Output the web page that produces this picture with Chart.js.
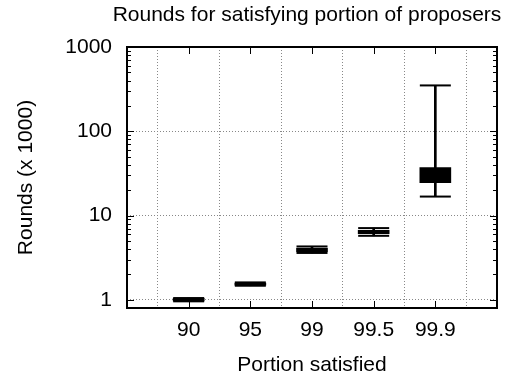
<!DOCTYPE html>
<html lang="en">
<head>
    <meta charset="UTF-8">
    <title>Rounds for satisfying portion of proposers</title>
    <style>
        html, body { margin: 0; padding: 0; background: #fff; }
        #wrap { width: 517px; height: 380px; }
    </style>
    <script src="https://cdn.jsdelivr.net/npm/chart.js@4.4.1/dist/chart.umd.min.js"></script>
</head>
<body>
    <div id="wrap"><canvas id="grafico" width="517" height="380"></canvas></div>
    <script>
    // dados (rounds x 1000)
    const categorias = ['90', '95', '99', '99.5', '99.9'];
    const minimo   = [0.96, 1.47, 3.6, 5.75, 16.8];
    const caixaLo  = [0.97, 1.49, 3.72, 6.1, 24.5];
    const caixaHi  = [1.04, 1.58, 4.1, 6.7, 37];
    const maximo   = [1.05, 1.61, 4.3, 7.1, 350];
    const yTicks   = [1, 10, 100, 1000];

    const fonte = '"Liberation Sans", Arial, sans-serif';
    const posX = categorias.map((c, i) => i + 1);

    const moldura = {
        id: 'moldura',
        afterDatasetsDraw(chart) {
            const {ctx, chartArea: a, scales: {x, y}} = chart;
            ctx.save();
            ctx.strokeStyle = '#000';
            ctx.lineWidth = 1;
            ctx.beginPath();
            posX.forEach(v => {
                const px = Math.round(x.getPixelForValue(v)) + 0.5;
                ctx.moveTo(px, a.bottom); ctx.lineTo(px, a.bottom - 7);
                ctx.moveTo(px, a.top); ctx.lineTo(px, a.top + 7);
            });
            yTicks.forEach(d => {
                for (let m = 1; m <= 9; m++) {
                    const v = d * m;
                    if (v < y.min || v > y.max) continue;
                    const py = Math.round(y.getPixelForValue(v)) + 0.5;
                    const len = m === 1 ? 7 : 4;
                    ctx.moveTo(a.left, py); ctx.lineTo(a.left + len, py);
                    ctx.moveTo(a.right, py); ctx.lineTo(a.right - len, py);
                }
            });
            ctx.stroke();
            ctx.lineWidth = 2;
            ctx.strokeRect(a.left, a.top, a.width, a.height);
            ctx.restore();
        },
        afterDraw(chart) {
            const ctx = chart.ctx;
            ctx.save();
            ctx.fillStyle = '#000';
            ctx.font = '21px ' + fonte;
            ctx.textAlign = 'center';
            ctx.textBaseline = 'alphabetic';
            ctx.fillText('Rounds for satisfying portion of proposers', 307, 21);
            ctx.restore();
        }
    };

    new Chart('grafico', {
        type: 'bar',
        data: {
            datasets: [
                {
                    type: 'scatter',
                    data: posX.flatMap((v, i) => [{x: v, y: minimo[i]}, {x: v, y: maximo[i]}]),
                    pointStyle: 'line',
                    pointRadius: 15.5,
                    borderColor: '#000',
                    borderWidth: 2,
                },
                {
                    data: posX.map((v, i) => ({x: v, y: [caixaLo[i], caixaHi[i]]})),
                    backgroundColor: '#000',
                    barThickness: 31,
                    grouped: false,
                },
                {
                    data: posX.map((v, i) => ({x: v, y: [minimo[i], maximo[i]]})),
                    backgroundColor: '#000',
                    barThickness: 2,
                    grouped: false,
                }
            ]
        },
        options: {
            responsive: false,
            animation: false,
            layout: { padding: { top: 47, right: 20, left: 0, bottom: 0 } },
            plugins: { legend: { display: false }, tooltip: { enabled: false } },
            scales: {
                x: {
                    type: 'linear',
                    min: 0,
                    max: 6,
                    offset: false,
                    afterBuildTicks: s => { s.ticks = posX.map(v => ({value: v})); },
                    afterFit: s => { s.height = 72; },
                    border: { display: false, dash: [1, 2] },
                    grid: { color: '#888', drawTicks: false },
                    ticks: {
                        padding: 10,
                        color: '#000',
                        font: { family: fonte, size: 21 },
                        maxRotation: 0,
                        callback: v => categorias[v - 1]
                    },
                    title: {
                        display: true,
                        text: 'Portion satisfied',
                        color: '#000',
                        font: { family: fonte, size: 21 },
                        padding: { top: 0, bottom: 2 }
                    }
                },
                y: {
                    type: 'logarithmic',
                    min: 0.8,
                    max: 1000,
                    afterBuildTicks: s => { s.ticks = yTicks.map(v => ({value: v})); },
                    afterFit: s => { s.width = 127; },
                    border: { display: false, dash: [1, 2] },
                    grid: { color: '#888', drawTicks: false },
                    ticks: {
                        padding: 15,
                        color: '#000',
                        font: { family: fonte, size: 21 },
                        callback: v => String(v)
                    },
                    title: {
                        display: true,
                        text: 'Rounds (x 1000)',
                        color: '#000',
                        font: { family: fonte, size: 21 },
                        padding: { top: 14, bottom: 0 }
                    }
                }
            }
        },
        plugins: [moldura]
    });
    </script>
</body>
</html>
